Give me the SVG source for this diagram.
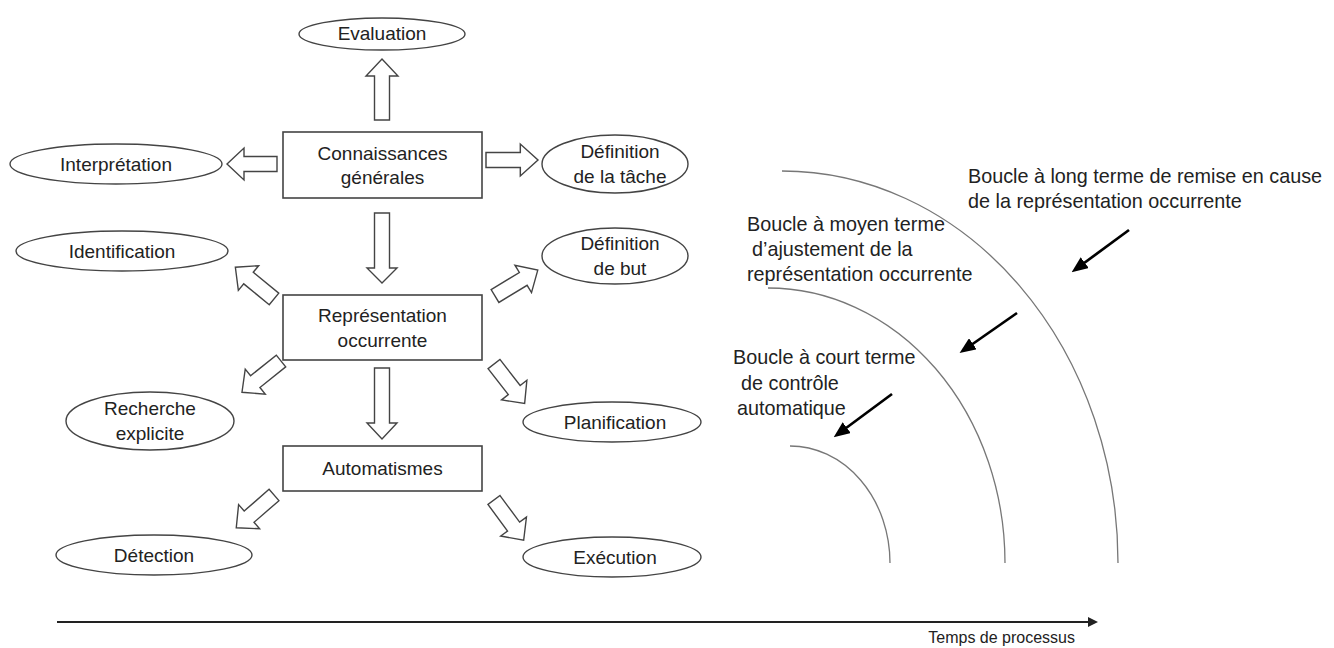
<svg xmlns="http://www.w3.org/2000/svg" xmlns:xlink="http://www.w3.org/1999/xlink" width="1334" height="648" viewBox="0 0 1334 648">
  <style>
    .box { fill: #fff; stroke: #444; stroke-width: 1.6; }
    .oval { fill: #fff; stroke: #444; stroke-width: 1.4; }
    .blk { fill: #fff; stroke: #444; stroke-width: 1.4; stroke-linejoin: miter; }
    .lbl { font-family: "Liberation Sans", Arial, sans-serif; font-size: 19px; fill: #222; text-anchor: middle; }
    .note { font-family: "Liberation Sans", Arial, sans-serif; font-size: 19.8px; fill: #222; }
    .loop { fill: none; stroke: #777; stroke-width: 1.3; }
    .ptr { stroke: #000; stroke-width: 2.7; marker-end: url(#solid); }
  </style>
  <defs>
    <!-- hollow block arrow, tail at origin, pointing along +x -->
    <path id="blk" d="M0,-7.5 H33 V-16 L50,0 L33,16 V7.5 H0 Z"/>
    <marker id="solid" markerWidth="6" markerHeight="5" refX="4" refY="2.5" orient="auto" markerUnits="strokeWidth">
      <path d="M0,0 L6,2.5 L0,5 Z" fill="#000"/>
    </marker>
    <marker id="timehead" markerWidth="5" markerHeight="5" refX="4" refY="2.5" orient="auto" markerUnits="strokeWidth">
      <path d="M0,0 L5,2.5 L0,5 Z" fill="#222"/>
    </marker>
  </defs>

  <!-- block arrows between levels and towards the activities -->
  <g id="connectors">
    <polygon class="blk" points="374.5,120 374.5,76 366,76 382,59 398,76 389.5,76 389.5,120"/>
    <polygon class="blk" points="374.5,213 374.5,268 367,268 382,283 397,268 389.5,268 389.5,213"/>
    <polygon class="blk" points="374.5,368 374.5,423 367,423 382,439 397,423 389.5,423 389.5,368"/>
    <use xlink:href="#blk" class="blk" transform="translate(486,160) scale(1.04,1)"/>
    <use xlink:href="#blk" class="blk" transform="translate(277,164) rotate(180)"/>
    <use xlink:href="#blk" class="blk" transform="translate(274,299) rotate(219.4)"/>
    <use xlink:href="#blk" class="blk" transform="translate(495,296) rotate(-31.2)"/>
    <use xlink:href="#blk" class="blk" transform="translate(281,361) rotate(141.3)"/>
    <use xlink:href="#blk" class="blk" transform="translate(494,364) rotate(52.2)"/>
    <use xlink:href="#blk" class="blk" transform="translate(274,495) rotate(139)"/>
    <use xlink:href="#blk" class="blk" transform="translate(494,500) rotate(53.6)"/>
  </g>

  <!-- knowledge levels -->
  <g id="connaissances">
    <rect class="box" x="283" y="132" width="199" height="66"/>
    <text class="lbl" x="382.5" y="160">Connaissances</text>
    <text class="lbl" x="382.5" y="184">générales</text>
  </g>
  <g id="representation">
    <rect class="box" x="283" y="295" width="199" height="65"/>
    <text class="lbl" x="382.5" y="322">Représentation</text>
    <text class="lbl" x="382.5" y="347">occurrente</text>
  </g>
  <g id="automatismes">
    <rect class="box" x="283" y="446" width="199" height="45"/>
    <text class="lbl" x="382.5" y="475">Automatismes</text>
  </g>

  <!-- activities -->
  <g id="evaluation">
    <ellipse class="oval" cx="382" cy="34" rx="83" ry="16"/>
    <text class="lbl" x="382" y="40">Evaluation</text>
  </g>
  <g id="interpretation">
    <ellipse class="oval" cx="116" cy="164" rx="106" ry="20"/>
    <text class="lbl" x="116" y="171">Interprétation</text>
  </g>
  <g id="definition-tache">
    <ellipse class="oval" cx="615" cy="164" rx="73" ry="29"/>
    <text class="lbl" x="620" y="158">Définition</text>
    <text class="lbl" x="620" y="183">de la tâche</text>
  </g>
  <g id="identification">
    <ellipse class="oval" cx="122" cy="251" rx="106" ry="20"/>
    <text class="lbl" x="122" y="258">Identification</text>
  </g>
  <g id="definition-but">
    <ellipse class="oval" cx="615" cy="256" rx="73" ry="28"/>
    <text class="lbl" x="620" y="250">Définition</text>
    <text class="lbl" x="620" y="275">de but</text>
  </g>
  <g id="recherche">
    <ellipse class="oval" cx="150" cy="421" rx="84" ry="29"/>
    <text class="lbl" x="150" y="415">Recherche</text>
    <text class="lbl" x="150" y="440">explicite</text>
  </g>
  <g id="planification">
    <ellipse class="oval" cx="612" cy="422" rx="89" ry="20"/>
    <text class="lbl" x="615" y="429">Planification</text>
  </g>
  <g id="detection">
    <ellipse class="oval" cx="154" cy="555" rx="98" ry="20"/>
    <text class="lbl" x="154" y="562">Détection</text>
  </g>
  <g id="execution">
    <ellipse class="oval" cx="612" cy="557" rx="89" ry="20"/>
    <text class="lbl" x="615" y="564">Exécution</text>
  </g>

  <!-- control loops -->
  <g id="boucles">
    <path class="loop" d="M790,446 A100,117 0 0 1 890,563"/>
    <path class="loop" d="M768,288 A237,275 0 0 1 1005,563"/>
    <path class="loop" d="M782,171 A336,392 0 0 1 1118,563"/>
    <line class="ptr" x1="1129" y1="230" x2="1076" y2="269"/>
    <line class="ptr" x1="1017" y1="313" x2="964" y2="350"/>
    <line class="ptr" x1="892" y1="394" x2="838" y2="434"/>
    <text class="note" x="968" y="183">Boucle à long terme de remise en cause</text>
    <text class="note" x="968" y="208">de la représentation occurrente</text>
    <text class="note" x="747" y="231">Boucle à moyen terme</text>
    <text class="note" x="752" y="256">d’ajustement de la</text>
    <text class="note" x="747" y="281">représentation occurrente</text>
    <text class="note" x="733" y="364">Boucle à court terme</text>
    <text class="note" x="741" y="390">de contrôle</text>
    <text class="note" x="737" y="415">automatique</text>
  </g>

  <!-- time axis -->
  <g id="axe-temps">
    <line x1="57" y1="622" x2="1096" y2="622" stroke="#222" stroke-width="2" marker-end="url(#timehead)"/>
    <text class="note" x="1075" y="643" style="font-size:16px; text-anchor:end">Temps de processus</text>
  </g>
</svg>
